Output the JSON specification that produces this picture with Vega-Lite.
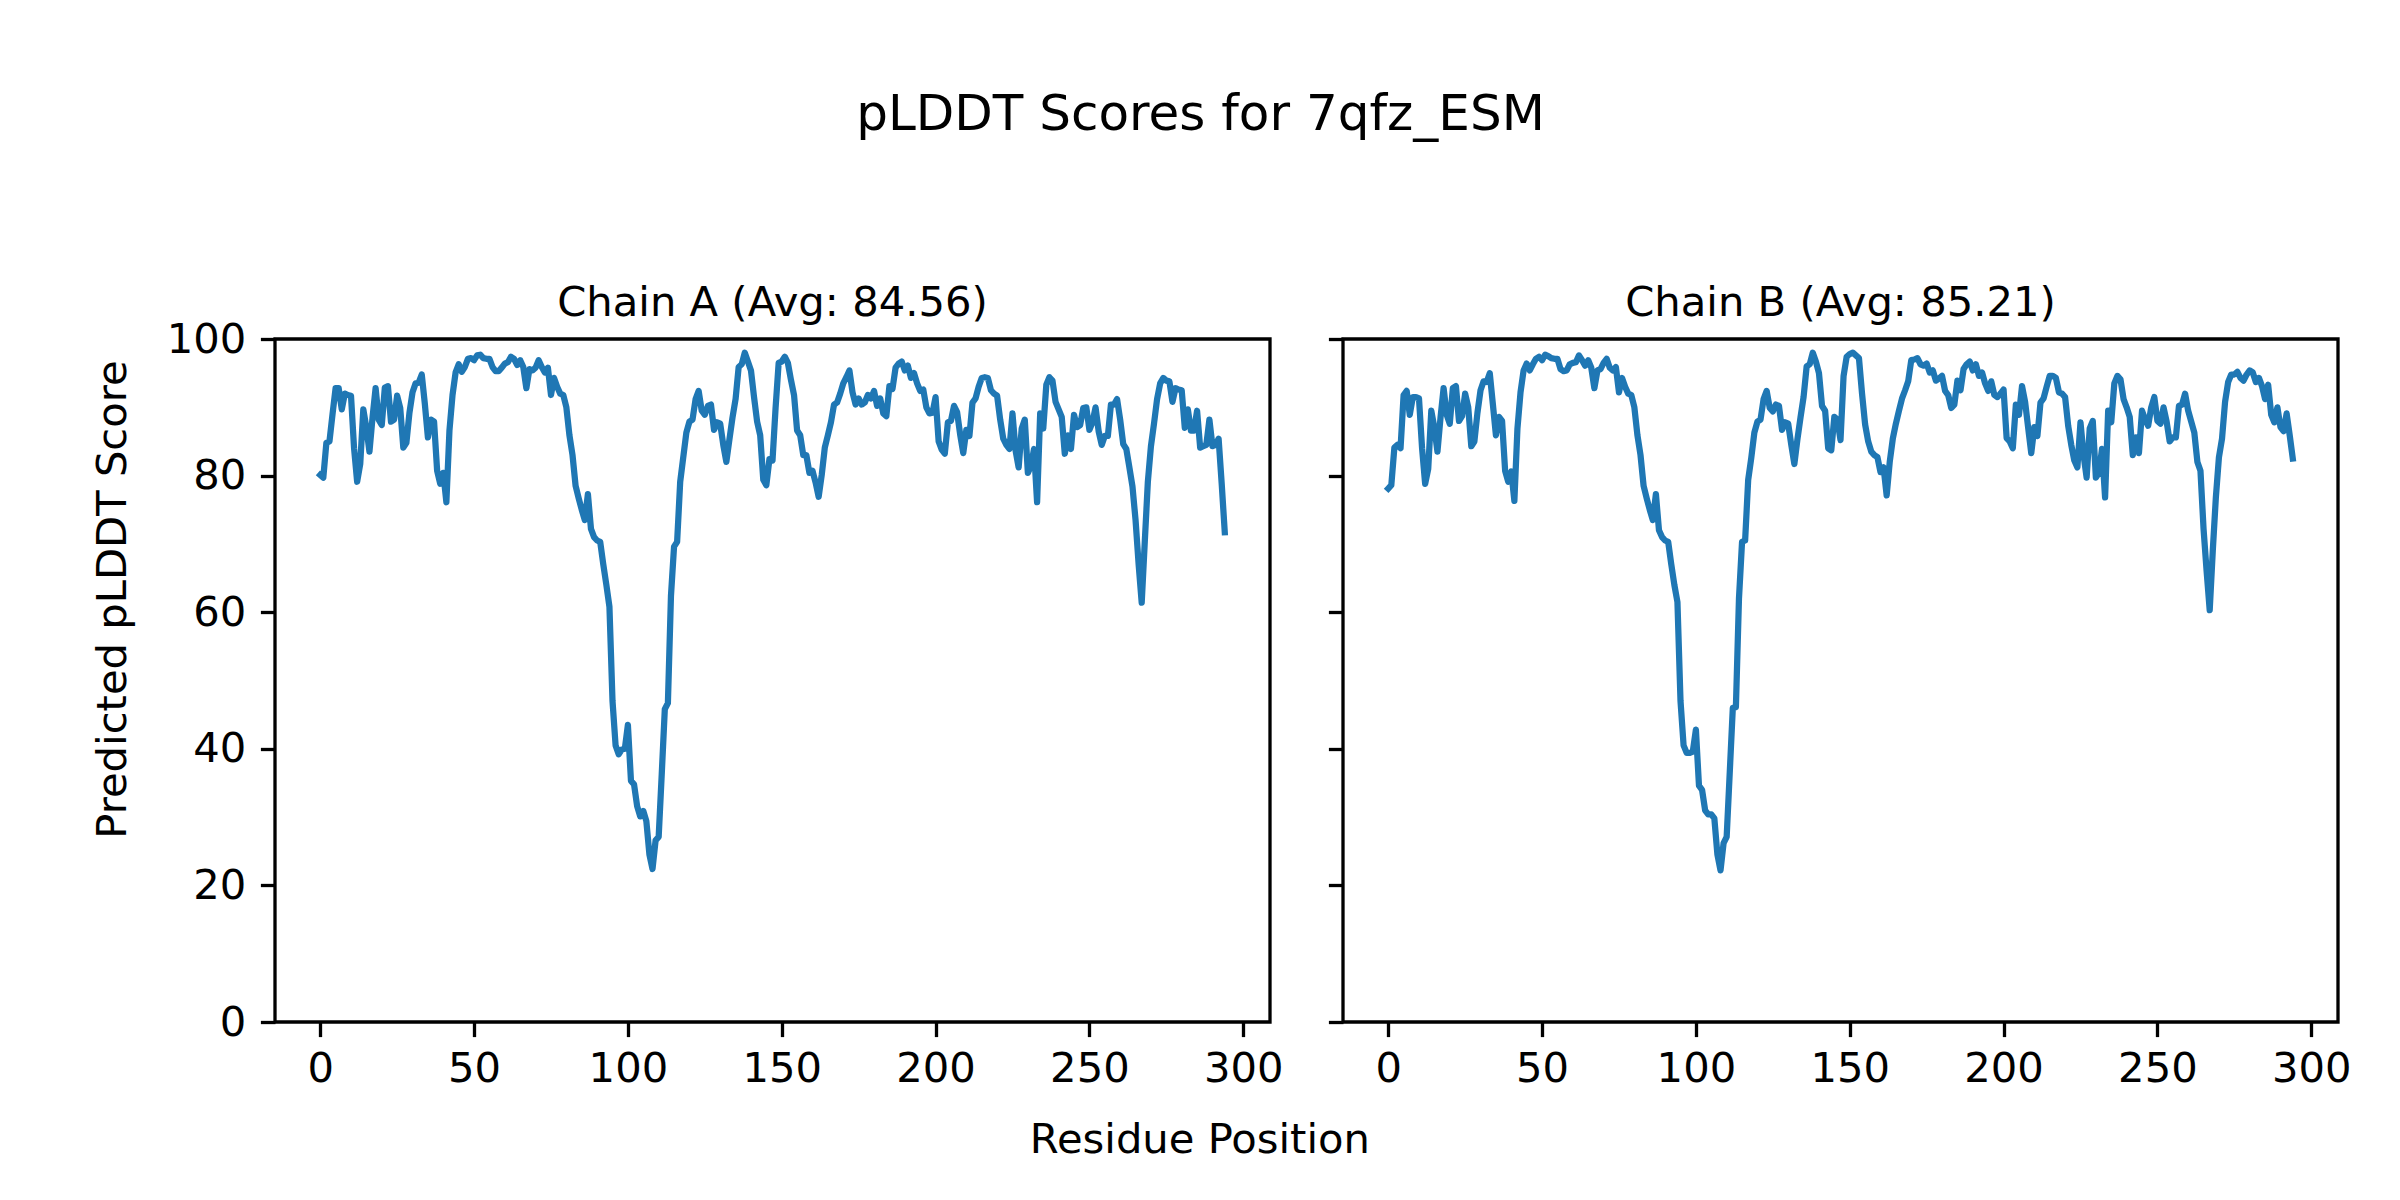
{
  "$schema": "https://vega.github.io/schema/vega-lite/v6.json",
  "background": "white",
  "padding": {"left": 90, "top": 90, "right": 0, "bottom": 0},
  "bounds": "flush",
  "spacing": 73,
  "title": {"text": "pLDDT Scores for 7qfz_ESM", "fontSize": 50, "font": "DejaVu Sans", "fontWeight": "normal", "color": "black", "anchor": "middle", "baseline": "alphabetic", "offset": 101, "dx": -21},
  "config": {
    "font": "DejaVu Sans",
    "view": {"stroke": "black", "strokeWidth": 3.3},
    "axis": {"domain": false, "grid": false, "tickColor": "black", "tickWidth": 3.3, "tickSize": 14.6, "labelFontSize": 41.7, "labelFont": "DejaVu Sans", "labelColor": "black", "labelPadding": 14.6, "titleFontSize": 41.7, "titleFont": "DejaVu Sans", "titleFontWeight": "normal", "titleColor": "black", "labelFlush": false, "labelOverlap": false},
    "axisX": {"labelPadding": 12}
  },
  "datasets": {
    "chainA": [
      {"residue":0,"score":80.1},{"residue":1,"score":79.7},{"residue":2,"score":84.8},{"residue":3,"score":85.0},{"residue":4,"score":89.0},{"residue":5,"score":92.8},{"residue":6,"score":92.8},{"residue":7,"score":89.7},{"residue":8,"score":92.0},{"residue":9,"score":91.8},
      {"residue":10,"score":91.7},{"residue":11,"score":84.0},{"residue":12,"score":79.1},{"residue":13,"score":81.7},{"residue":14,"score":89.7},{"residue":15,"score":87.0},{"residue":16,"score":83.5},{"residue":17,"score":88.5},{"residue":18,"score":92.8},{"residue":19,"score":88.2},
      {"residue":20,"score":87.4},{"residue":21,"score":92.9},{"residue":22,"score":93.1},{"residue":23,"score":87.9},{"residue":24,"score":88.2},{"residue":25,"score":91.7},{"residue":26,"score":89.9},{"residue":27,"score":84.1},{"residue":28,"score":84.8},{"residue":29,"score":89.2},
      {"residue":30,"score":92.2},{"residue":31,"score":93.5},{"residue":32,"score":93.6},{"residue":33,"score":94.8},{"residue":34,"score":90.5},{"residue":35,"score":85.6},{"residue":36,"score":88.2},{"residue":37,"score":87.9},{"residue":38,"score":80.7},{"residue":39,"score":78.8},
      {"residue":40,"score":80.4},{"residue":41,"score":76.1},{"residue":42,"score":86.6},{"residue":43,"score":91.8},{"residue":44,"score":95.1},{"residue":45,"score":96.3},{"residue":46,"score":95.2},{"residue":47,"score":95.9},{"residue":48,"score":97.1},{"residue":49,"score":97.2},
      {"residue":50,"score":96.9},{"residue":51,"score":97.6},{"residue":52,"score":97.7},{"residue":53,"score":97.2},{"residue":54,"score":97.1},{"residue":55,"score":97.1},{"residue":56,"score":95.9},{"residue":57,"score":95.3},{"residue":58,"score":95.3},{"residue":59,"score":95.8},
      {"residue":60,"score":96.4},{"residue":61,"score":96.6},{"residue":62,"score":97.4},{"residue":63,"score":97.1},{"residue":64,"score":96.2},{"residue":65,"score":96.9},{"residue":66,"score":95.9},{"residue":67,"score":92.8},{"residue":68,"score":95.6},{"residue":69,"score":95.4},
      {"residue":70,"score":95.8},{"residue":71,"score":96.9},{"residue":72,"score":95.9},{"residue":73,"score":95.1},{"residue":74,"score":95.8},{"residue":75,"score":91.8},{"residue":76,"score":94.3},{"residue":77,"score":93.0},{"residue":78,"score":92.0},{"residue":79,"score":91.8},
      {"residue":80,"score":90.0},{"residue":81,"score":85.9},{"residue":82,"score":83.0},{"residue":83,"score":78.5},{"residue":84,"score":76.7},{"residue":85,"score":75.0},{"residue":86,"score":73.5},{"residue":87,"score":77.3},{"residue":88,"score":72.2},{"residue":89,"score":71.0},
      {"residue":90,"score":70.5},{"residue":91,"score":70.3},{"residue":92,"score":67.0},{"residue":93,"score":64.0},{"residue":94,"score":60.8},{"residue":95,"score":47.0},{"residue":96,"score":40.5},{"residue":97,"score":39.2},{"residue":98,"score":39.9},{"residue":99,"score":40.0},
      {"residue":100,"score":43.5},{"residue":101,"score":35.3},{"residue":102,"score":34.8},{"residue":103,"score":31.6},{"residue":104,"score":30.1},{"residue":105,"score":30.9},{"residue":106,"score":29.4},{"residue":107,"score":24.5},{"residue":108,"score":22.4},{"residue":109,"score":26.6},
      {"residue":110,"score":27.1},{"residue":111,"score":36.3},{"residue":112,"score":45.8},{"residue":113,"score":46.7},{"residue":114,"score":62.4},{"residue":115,"score":69.6},{"residue":116,"score":70.3},{"residue":117,"score":79.1},{"residue":118,"score":82.7},{"residue":119,"score":86.3},
      {"residue":120,"score":87.9},{"residue":121,"score":88.2},{"residue":122,"score":91.2},{"residue":123,"score":92.4},{"residue":124,"score":89.5},{"residue":125,"score":88.9},{"residue":126,"score":90.2},{"residue":127,"score":90.4},{"residue":128,"score":86.7},{"residue":129,"score":87.8},
      {"residue":130,"score":87.6},{"residue":131,"score":84.5},{"residue":132,"score":82.0},{"residue":133,"score":85.3},{"residue":134,"score":88.5},{"residue":135,"score":91.2},{"residue":136,"score":95.9},{"residue":137,"score":96.3},{"residue":138,"score":98.0},{"residue":139,"score":96.7},
      {"residue":140,"score":95.4},{"residue":141,"score":91.5},{"residue":142,"score":87.9},{"residue":143,"score":85.9},{"residue":144,"score":79.4},{"residue":145,"score":78.6},{"residue":146,"score":82.4},{"residue":147,"score":82.2},{"residue":148,"score":89.9},{"residue":149,"score":96.5},
      {"residue":150,"score":96.7},{"residue":151,"score":97.4},{"residue":152,"score":96.5},{"residue":153,"score":94.0},{"residue":154,"score":91.8},{"residue":155,"score":86.6},{"residue":156,"score":85.9},{"residue":157,"score":83.0},{"residue":158,"score":83.0},{"residue":159,"score":80.4},
      {"residue":160,"score":80.7},{"residue":161,"score":79.0},{"residue":162,"score":76.9},{"residue":163,"score":80.1},{"residue":164,"score":84.1},{"residue":165,"score":85.9},{"residue":166,"score":87.8},{"residue":167,"score":90.4},{"residue":168,"score":90.7},{"residue":169,"score":92.0},
      {"residue":170,"score":93.5},{"residue":171,"score":94.4},{"residue":172,"score":95.4},{"residue":173,"score":92.2},{"residue":174,"score":90.4},{"residue":175,"score":91.3},{"residue":176,"score":90.4},{"residue":177,"score":90.7},{"residue":178,"score":91.8},{"residue":179,"score":91.3},
      {"residue":180,"score":92.4},{"residue":181,"score":90.2},{"residue":182,"score":91.3},{"residue":183,"score":89.1},{"residue":184,"score":88.7},{"residue":185,"score":93.1},{"residue":186,"score":92.7},{"residue":187,"score":95.8},{"residue":188,"score":96.4},{"residue":189,"score":96.7},
      {"residue":190,"score":95.4},{"residue":191,"score":96.1},{"residue":192,"score":94.3},{"residue":193,"score":95.0},{"residue":194,"score":93.5},{"residue":195,"score":92.4},{"residue":196,"score":92.6},{"residue":197,"score":90.0},{"residue":198,"score":89.1},{"residue":199,"score":89.2},
      {"residue":200,"score":91.5},{"residue":201,"score":85.0},{"residue":202,"score":83.8},{"residue":203,"score":83.2},{"residue":204,"score":87.8},{"residue":205,"score":88.0},{"residue":206,"score":90.2},{"residue":207,"score":89.3},{"residue":208,"score":86.0},{"residue":209,"score":83.3},
      {"residue":210,"score":86.7},{"residue":211,"score":85.8},{"residue":212,"score":90.7},{"residue":213,"score":91.3},{"residue":214,"score":93.0},{"residue":215,"score":94.3},{"residue":216,"score":94.4},{"residue":217,"score":94.3},{"residue":218,"score":92.5},{"residue":219,"score":92.0},
      {"residue":220,"score":91.7},{"residue":221,"score":88.2},{"residue":222,"score":85.4},{"residue":223,"score":84.5},{"residue":224,"score":83.9},{"residue":225,"score":89.1},{"residue":226,"score":83.7},{"residue":227,"score":81.2},{"residue":228,"score":86.9},{"residue":229,"score":88.2},
      {"residue":230,"score":80.4},{"residue":231,"score":81.4},{"residue":232,"score":83.9},{"residue":233,"score":76.1},{"residue":234,"score":89.1},{"residue":235,"score":86.9},{"residue":236,"score":93.3},{"residue":237,"score":94.4},{"residue":238,"score":93.9},{"residue":239,"score":90.8},
      {"residue":240,"score":89.7},{"residue":241,"score":88.6},{"residue":242,"score":83.2},{"residue":243,"score":85.9},{"residue":244,"score":83.9},{"residue":245,"score":88.9},{"residue":246,"score":87.1},{"residue":247,"score":87.4},{"residue":248,"score":89.9},{"residue":249,"score":90.0},
      {"residue":250,"score":86.7},{"residue":251,"score":87.8},{"residue":252,"score":90.0},{"residue":253,"score":86.5},{"residue":254,"score":84.5},{"residue":255,"score":85.8},{"residue":256,"score":85.8},{"residue":257,"score":90.4},{"residue":258,"score":90.4},{"residue":259,"score":91.2},
      {"residue":260,"score":88.2},{"residue":261,"score":84.6},{"residue":262,"score":83.9},{"residue":263,"score":81.2},{"residue":264,"score":78.4},{"residue":265,"score":73.5},{"residue":266,"score":67.0},{"residue":267,"score":61.4},{"residue":268,"score":70.3},{"residue":269,"score":79.1},
      {"residue":270,"score":84.3},{"residue":271,"score":87.6},{"residue":272,"score":91.2},{"residue":273,"score":93.5},{"residue":274,"score":94.3},{"residue":275,"score":93.9},{"residue":276,"score":93.8},{"residue":277,"score":90.8},{"residue":278,"score":92.8},{"residue":279,"score":92.6},
      {"residue":280,"score":92.5},{"residue":281,"score":87.0},{"residue":282,"score":89.7},{"residue":283,"score":86.6},{"residue":284,"score":86.6},{"residue":285,"score":89.5},{"residue":286,"score":84.1},{"residue":287,"score":84.3},{"residue":288,"score":84.5},{"residue":289,"score":88.2},
      {"residue":290,"score":84.3},{"residue":291,"score":84.5},{"residue":292,"score":85.4},{"residue":293,"score":78.8},{"residue":294,"score":71.7}
    ],
    "chainB": [
      {"residue":0,"score":78.1},{"residue":1,"score":78.6},{"residue":2,"score":84.1},{"residue":3,"score":84.5},{"residue":4,"score":84.0},{"residue":5,"score":91.8},{"residue":6,"score":92.4},{"residue":7,"score":88.9},{"residue":8,"score":91.5},{"residue":9,"score":91.5},
      {"residue":10,"score":91.3},{"residue":11,"score":84.0},{"residue":12,"score":78.8},{"residue":13,"score":81.0},{"residue":14,"score":89.5},{"residue":15,"score":87.0},{"residue":16,"score":83.5},{"residue":17,"score":88.5},{"residue":18,"score":92.8},{"residue":19,"score":88.9},
      {"residue":20,"score":87.6},{"residue":21,"score":92.8},{"residue":22,"score":93.1},{"residue":23,"score":88.0},{"residue":24,"score":88.7},{"residue":25,"score":92.0},{"residue":26,"score":90.0},{"residue":27,"score":84.3},{"residue":28,"score":85.0},{"residue":29,"score":89.2},
      {"residue":30,"score":92.5},{"residue":31,"score":93.8},{"residue":32,"score":93.7},{"residue":33,"score":95.0},{"residue":34,"score":90.5},{"residue":35,"score":85.9},{"residue":36,"score":88.6},{"residue":37,"score":88.0},{"residue":38,"score":80.7},{"residue":39,"score":79.1},
      {"residue":40,"score":80.6},{"residue":41,"score":76.3},{"residue":42,"score":86.9},{"residue":43,"score":92.2},{"residue":44,"score":95.4},{"residue":45,"score":96.4},{"residue":46,"score":95.4},{"residue":47,"score":96.3},{"residue":48,"score":97.1},{"residue":49,"score":97.4},
      {"residue":50,"score":96.9},{"residue":51,"score":97.7},{"residue":52,"score":97.5},{"residue":53,"score":97.2},{"residue":54,"score":97.1},{"residue":55,"score":97.1},{"residue":56,"score":95.6},{"residue":57,"score":95.3},{"residue":58,"score":95.4},{"residue":59,"score":96.3},
      {"residue":60,"score":96.5},{"residue":61,"score":96.6},{"residue":62,"score":97.6},{"residue":63,"score":96.9},{"residue":64,"score":96.1},{"residue":65,"score":96.9},{"residue":66,"score":95.8},{"residue":67,"score":92.8},{"residue":68,"score":95.4},{"residue":69,"score":95.6},
      {"residue":70,"score":96.5},{"residue":71,"score":97.1},{"residue":72,"score":95.8},{"residue":73,"score":95.4},{"residue":74,"score":95.9},{"residue":75,"score":92.2},{"residue":76,"score":94.3},{"residue":77,"score":93.0},{"residue":78,"score":92.0},{"residue":79,"score":91.8},
      {"residue":80,"score":90.0},{"residue":81,"score":85.9},{"residue":82,"score":83.0},{"residue":83,"score":78.5},{"residue":84,"score":76.7},{"residue":85,"score":75.0},{"residue":86,"score":73.5},{"residue":87,"score":77.3},{"residue":88,"score":72.0},{"residue":89,"score":71.0},
      {"residue":90,"score":70.5},{"residue":91,"score":70.3},{"residue":92,"score":67.0},{"residue":93,"score":64.0},{"residue":94,"score":61.5},{"residue":95,"score":47.0},{"residue":96,"score":40.5},{"residue":97,"score":39.4},{"residue":98,"score":39.4},{"residue":99,"score":39.6},
      {"residue":100,"score":42.8},{"residue":101,"score":34.6},{"residue":102,"score":34.0},{"residue":103,"score":31.0},{"residue":104,"score":30.4},{"residue":105,"score":30.4},{"residue":106,"score":29.8},{"residue":107,"score":24.5},{"residue":108,"score":22.2},{"residue":109,"score":26.2},
      {"residue":110,"score":27.1},{"residue":111,"score":36.5},{"residue":112,"score":46.0},{"residue":113,"score":46.1},{"residue":114,"score":62.0},{"residue":115,"score":70.3},{"residue":116,"score":70.5},{"residue":117,"score":79.4},{"residue":118,"score":82.6},{"residue":119,"score":86.3},
      {"residue":120,"score":87.9},{"residue":121,"score":88.2},{"residue":122,"score":91.2},{"residue":123,"score":92.4},{"residue":124,"score":89.9},{"residue":125,"score":89.4},{"residue":126,"score":90.4},{"residue":127,"score":90.2},{"residue":128,"score":86.7},{"residue":129,"score":87.8},
      {"residue":130,"score":87.6},{"residue":131,"score":84.5},{"residue":132,"score":81.7},{"residue":133,"score":85.3},{"residue":134,"score":88.5},{"residue":135,"score":91.5},{"residue":136,"score":96.0},{"residue":137,"score":96.3},{"residue":138,"score":98.0},{"residue":139,"score":96.7},
      {"residue":140,"score":95.0},{"residue":141,"score":90.2},{"residue":142,"score":89.5},{"residue":143,"score":84.0},{"residue":144,"score":83.7},{"residue":145,"score":88.6},{"residue":146,"score":88.2},{"residue":147,"score":85.2},{"residue":148,"score":94.6},{"residue":149,"score":97.4},
      {"residue":150,"score":97.8},{"residue":151,"score":98.0},{"residue":152,"score":97.6},{"residue":153,"score":97.2},{"residue":154,"score":92.0},{"residue":155,"score":87.5},{"residue":156,"score":85.0},{"residue":157,"score":83.5},{"residue":158,"score":83.0},{"residue":159,"score":82.7},
      {"residue":160,"score":80.5},{"residue":161,"score":81.2},{"residue":162,"score":77.1},{"residue":163,"score":82.0},{"residue":164,"score":85.4},{"residue":165,"score":87.6},{"residue":166,"score":89.5},{"residue":167,"score":91.3},{"residue":168,"score":92.5},{"residue":169,"score":93.8},
      {"residue":170,"score":96.9},{"residue":171,"score":97.0},{"residue":172,"score":97.2},{"residue":173,"score":96.3},{"residue":174,"score":96.1},{"residue":175,"score":96.4},{"residue":176,"score":95.1},{"residue":177,"score":95.4},{"residue":178,"score":93.9},{"residue":179,"score":94.2},
      {"residue":180,"score":94.6},{"residue":181,"score":92.4},{"residue":182,"score":91.8},{"residue":183,"score":89.9},{"residue":184,"score":90.4},{"residue":185,"score":93.9},{"residue":186,"score":92.5},{"residue":187,"score":95.6},{"residue":188,"score":96.3},{"residue":189,"score":96.7},
      {"residue":190,"score":95.4},{"residue":191,"score":96.3},{"residue":192,"score":94.6},{"residue":193,"score":95.1},{"residue":194,"score":93.5},{"residue":195,"score":92.4},{"residue":196,"score":93.8},{"residue":197,"score":91.8},{"residue":198,"score":91.5},{"residue":199,"score":92.0},
      {"residue":200,"score":92.6},{"residue":201,"score":85.5},{"residue":202,"score":85.0},{"residue":203,"score":84.0},{"residue":204,"score":90.4},{"residue":205,"score":88.9},{"residue":206,"score":93.1},{"residue":207,"score":90.8},{"residue":208,"score":87.0},{"residue":209,"score":83.3},
      {"residue":210,"score":87.1},{"residue":211,"score":85.8},{"residue":212,"score":90.7},{"residue":213,"score":91.3},{"residue":214,"score":93.0},{"residue":215,"score":94.6},{"residue":216,"score":94.6},{"residue":217,"score":94.3},{"residue":218,"score":92.2},{"residue":219,"score":92.0},
      {"residue":220,"score":91.5},{"residue":221,"score":87.3},{"residue":222,"score":84.5},{"residue":223,"score":82.2},{"residue":224,"score":81.2},{"residue":225,"score":87.8},{"residue":226,"score":83.0},{"residue":227,"score":79.7},{"residue":228,"score":86.9},{"residue":229,"score":88.0},
      {"residue":230,"score":79.7},{"residue":231,"score":80.4},{"residue":232,"score":83.9},{"residue":233,"score":76.8},{"residue":234,"score":89.5},{"residue":235,"score":87.8},{"residue":236,"score":93.5},{"residue":237,"score":94.6},{"residue":238,"score":94.1},{"residue":239,"score":91.2},
      {"residue":240,"score":90.0},{"residue":241,"score":88.6},{"residue":242,"score":83.0},{"residue":243,"score":85.6},{"residue":244,"score":83.3},{"residue":245,"score":89.5},{"residue":246,"score":88.2},{"residue":247,"score":87.3},{"residue":248,"score":90.0},{"residue":249,"score":91.5},
      {"residue":250,"score":88.0},{"residue":251,"score":87.6},{"residue":252,"score":90.0},{"residue":253,"score":87.9},{"residue":254,"score":85.0},{"residue":255,"score":85.6},{"residue":256,"score":85.6},{"residue":257,"score":90.2},{"residue":258,"score":90.4},{"residue":259,"score":92.0},
      {"residue":260,"score":89.5},{"residue":261,"score":87.9},{"residue":262,"score":86.3},{"residue":263,"score":82.0},{"residue":264,"score":80.7},{"residue":265,"score":72.2},{"residue":266,"score":66.0},{"residue":267,"score":60.3},{"residue":268,"score":69.0},{"residue":269,"score":76.8},
      {"residue":270,"score":82.7},{"residue":271,"score":85.4},{"residue":272,"score":90.8},{"residue":273,"score":93.7},{"residue":274,"score":94.8},{"residue":275,"score":94.8},{"residue":276,"score":95.2},{"residue":277,"score":94.3},{"residue":278,"score":93.9},{"residue":279,"score":94.8},
      {"residue":280,"score":95.4},{"residue":281,"score":95.1},{"residue":282,"score":93.7},{"residue":283,"score":94.3},{"residue":284,"score":93.1},{"residue":285,"score":91.2},{"residue":286,"score":93.3},{"residue":287,"score":88.9},{"residue":288,"score":87.8},{"residue":289,"score":90.0},
      {"residue":290,"score":87.1},{"residue":291,"score":86.5},{"residue":292,"score":89.1},{"residue":293,"score":85.9},{"residue":294,"score":82.5}
    ]
  },
  "hconcat": [
    {
      "width": 995,
      "height": 683,
      "title": {"text": "Chain A (Avg: 84.56)", "fontSize": 41.7, "font": "DejaVu Sans", "fontWeight": "normal", "color": "black", "anchor": "middle", "baseline": "alphabetic", "offset": 0, "dy": 38.5},
      "data": {"name": "chainA"},
      "mark": {"type": "line", "color": "#1f77b4", "strokeWidth": 6.25, "strokeJoin": "round", "strokeCap": "square"},
      "encoding": {
        "x": {"field": "residue", "type": "quantitative", "scale": {"domain": [-14.7, 308.7], "nice": false, "zero": false},
              "axis": {"values": [0, 50, 100, 150, 200, 250, 300], "title": "Residue Position", "titleX": 924.4, "titleY": 130, "titleBaseline": "alphabetic", "titleAlign": "center", "titleAnchor": null}},
        "y": {"field": "score", "type": "quantitative", "scale": {"domain": [0, 100], "nice": false, "zero": false},
              "axis": {"values": [0, 20, 40, 60, 80, 100], "title": "Predicted pLDDT Score", "titleX": -150, "titleY": 260, "titleAngle": -90, "titleBaseline": "alphabetic", "titleAlign": "center"}}
      }
    },
    {
      "width": 995,
      "height": 683,
      "title": {"text": "Chain B (Avg: 85.21)", "fontSize": 41.7, "font": "DejaVu Sans", "fontWeight": "normal", "color": "black", "anchor": "middle", "baseline": "alphabetic", "offset": 0, "dy": 20},
      "data": {"name": "chainB"},
      "mark": {"type": "line", "color": "#1f77b4", "strokeWidth": 6.25, "strokeJoin": "round", "strokeCap": "square"},
      "encoding": {
        "x": {"field": "residue", "type": "quantitative", "scale": {"domain": [-14.7, 308.7], "nice": false, "zero": false},
              "axis": {"values": [0, 50, 100, 150, 200, 250, 300], "title": null}},
        "y": {"field": "score", "type": "quantitative", "scale": {"domain": [0, 100], "nice": false, "zero": false},
              "axis": {"values": [0, 20, 40, 60, 80, 100], "title": null, "labels": false}}
      }
    }
  ]
}
